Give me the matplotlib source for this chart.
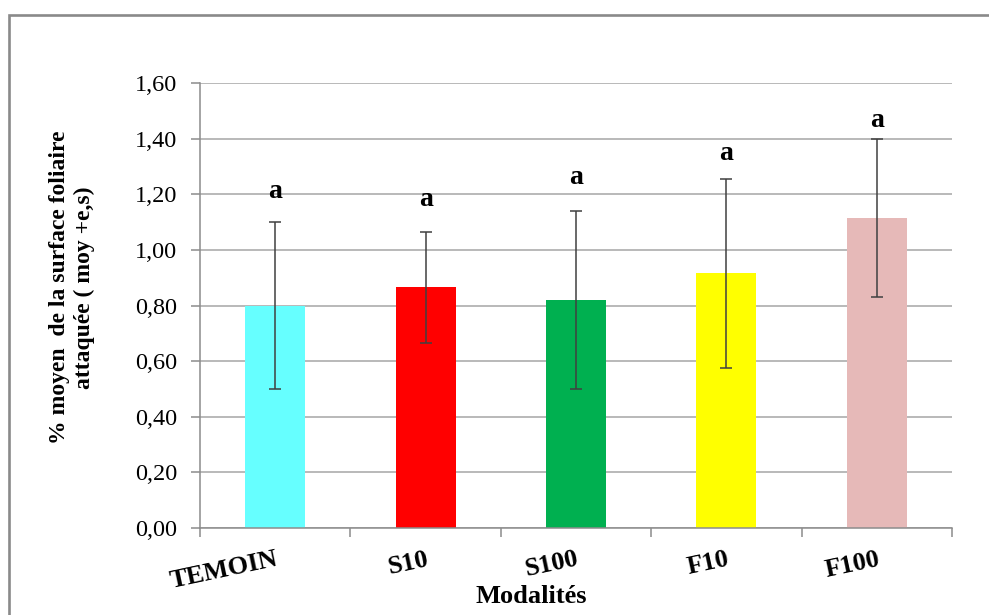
import numpy as np
import matplotlib
matplotlib.use('Agg')
import matplotlib.pyplot as plt
from matplotlib.patches import Rectangle
from matplotlib.ticker import FuncFormatter

plt.rcParams['font.family'] = ['Liberation Serif', 'DejaVu Serif']

# data
modalites = ['TEMOIN', 'S10', 'S100', 'F10', 'F100']
moyennes = [0.80, 0.866, 0.82, 0.916, 1.114]
erreurs = [0.30, 0.20, 0.32, 0.34, 0.284]
lettres = ['a', 'a', 'a', 'a', 'a']
lettres_y = [1.21, 1.18, 1.26, 1.345, 1.465]
couleurs = ['#66FFFF', '#FF0000', '#00B050', '#FFFF00', '#E6B9B8']

fig = plt.figure(figsize=(9.89, 6.15), dpi=100)
ax = fig.add_axes([200 / 989, 1 - 528 / 615, 752 / 989, 445 / 615])

# gray chart-area frame (runs off the right and bottom edges)
fig.patches.append(Rectangle((9.3 / 989, -0.1), 1.2, 1 - 15.3 / 615 + 0.1,
                             transform=fig.transFigure, fill=False,
                             edgecolor='#8a8a8a', lw=1.9))

x = np.arange(len(modalites))
ax.bar(x, moyennes, width=0.4, color=couleurs, zorder=2)
ax.errorbar(x, moyennes, yerr=erreurs, fmt='none', ecolor='#404040',
            elinewidth=1.1, capsize=4.3, capthick=1.1, zorder=3)

for i in range(len(x)):
    ax.text(x[i], lettres_y[i], lettres[i], ha='center', va='center',
            fontsize=20, fontweight='bold')

ax.set_xlim(-0.5, len(x) - 0.5)
ax.set_ylim(0, 1.6)
ax.set_yticks(np.arange(0, 1.61, 0.2))
ax.yaxis.set_major_formatter(FuncFormatter(lambda v, p: f'{v:.2f}'.replace('.', ',')))

# tick marks between categories, labels under the bars
ax.set_xticks(np.arange(-0.5, len(x), 1))
ax.set_xticklabels([])
ax.set_xticks(x, labels=modalites, minor=True)
plt.setp(ax.get_xticklabels(minor=True), rotation=12, ha='right',
         rotation_mode='anchor', fontsize=19, fontweight='bold')

ax.yaxis.grid(True, color='#a6a6a6', lw=1.1)
ax.set_axisbelow(True)
for s in ['top', 'right']:
    ax.spines[s].set_visible(False)
for s in ['left', 'bottom']:
    ax.spines[s].set_color('#8c8c8c')
    ax.spines[s].set_linewidth(1.1)
ax.tick_params(axis='both', which='major', direction='out', length=6.5,
               color='#8c8c8c', width=1.1)
ax.tick_params(axis='x', which='minor', length=0, pad=14)
ax.tick_params(axis='y', labelsize=17.5, pad=10)

ax.set_xlabel('Modalités', fontsize=19, fontweight='bold', va='center')
ax.xaxis.set_label_coords(0.44, -0.153)
ax.set_ylabel('% moyen  de la surface foliaire\nattaquée ( moy +e,s)',
              fontsize=17, fontweight='bold', va='center')
ax.yaxis.set_label_coords(-0.17, 0.54)

fig.savefig('out.png', dpi=100)
